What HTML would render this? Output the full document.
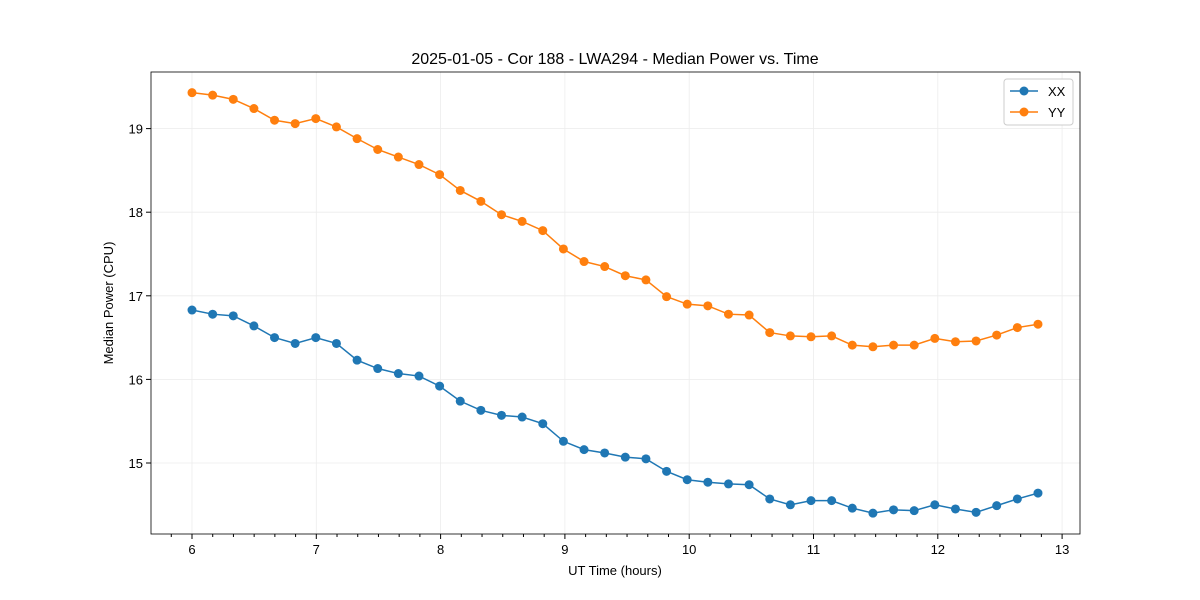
<!DOCTYPE html>
<html><head><meta charset="utf-8"><style>body{margin:0;background:#fff}svg{display:block;font-family:"Liberation Sans","DejaVu Sans",sans-serif}</style></head>
<body>
<svg id="c" width="1200" height="600"></svg>
<script>
const xxValues=[16.83,16.78,16.76,16.64,16.50,16.43,16.50,16.43,16.23,16.13,16.07,16.04,15.92,15.74,15.63,15.57,15.55,15.47,15.26,15.16,15.12,15.07,15.05,14.90,14.80,14.77,14.75,14.74,14.57,14.50,14.55,14.55,14.46,14.40,14.44,14.43,14.50,14.45,14.41,14.49,14.57,14.64];
const yyValues=[19.43,19.40,19.35,19.24,19.10,19.06,19.12,19.02,18.88,18.75,18.66,18.57,18.45,18.26,18.13,17.97,17.89,17.78,17.56,17.41,17.35,17.24,17.19,16.99,16.90,16.88,16.78,16.77,16.56,16.52,16.51,16.52,16.41,16.39,16.41,16.41,16.49,16.45,16.46,16.53,16.62,16.66];
const xTicks=[6,7,8,9,10,11,12,13];
const yTicks=[15,16,17,18,19];
const startHour=6, stepHour=0.166;
const L=151,R=1080,T=72,B=534;
const xs=v=>192+(v-6)*124.3;
const ys=v=>463-(v-15)*83.6;
const svg=document.getElementById('c');
const NS='http://www.w3.org/2000/svg';
function mk(t,a,txt){const e=document.createElementNS(NS,t);for(const k in a)e.setAttribute(k,a[k]);if(txt!==undefined)e.textContent=txt;svg.appendChild(e);return e;}
let e;
xTicks.forEach(t=>{const x=xs(t);
e=mk('line',{x1:x,x2:x,y1:T,y2:B,stroke:'#ececec','stroke-width':0.8});


e=mk('line',{x1:x,x2:x,y1:B,y2:B+5,stroke:'#000'});


e=mk('text',{x:x,y:B+20,'text-anchor':'middle','font-size':13},t);

});
for(let m=5+5/6;m<13.2;m+=1/6){if(Math.abs(m-Math.round(m))<0.01)continue;const x=xs(m);if(x<L||x>R)continue;
e=mk('line',{x1:x,x2:x,y1:B,y2:B+3,stroke:'#000'});

}
yTicks.forEach(t=>{const y=ys(t);
e=mk('line',{x1:L,x2:R,y1:y,y2:y,stroke:'#ececec','stroke-width':0.8});


e=mk('line',{x1:L-5,x2:L,y1:y,y2:y,stroke:'#000'});


e=mk('text',{x:L-8,y:y+5,'text-anchor':'end','font-size':13},t);

});
function series(vals,col,name){const pts=vals.map((v,i)=>[xs(startHour+i*stepHour),ys(v)]);
e=mk('polyline',{points:pts.map(p=>p.join(',')).join(' '),fill:'none',stroke:col,'stroke-width':1.5});


pts.forEach(p=>{e=mk('circle',{cx:p[0],cy:p[1],r:4.5,fill:col});

});}
series(xxValues,'#1f77b4','xx');
series(yyValues,'#ff7f0e','yy');
e=mk('rect',{x:L,y:T,width:R-L,height:B-T,fill:'none',stroke:'#000','stroke-width':0.8});


e=mk('text',{x:615,y:64,'text-anchor':'middle','font-size':16},'2025-01-05 - Cor 188 - LWA294 - Median Power vs. Time');


e=mk('text',{x:615,y:575,'text-anchor':'middle','font-size':13},'UT Time (hours)');


e=mk('text',{x:113,y:303,'text-anchor':'middle','font-size':13,transform:'rotate(-90 113 303)'},'Median Power (CPU)');


e=mk('rect',{x:1004,y:79,width:69,height:46,rx:3,fill:'#fff',stroke:'#ccc'});


[['XX','#1f77b4',91],['YY','#ff7f0e',112]].forEach(([n,c,y])=>{
e=mk('line',{x1:1010,x2:1038,y1:y,y2:y,stroke:c,'stroke-width':1.5});


e=mk('circle',{cx:1024,cy:y,r:4.5,fill:c});


e=mk('text',{x:1048,y:y+5,'font-size':13},n);

});
</script>
</body></html>
